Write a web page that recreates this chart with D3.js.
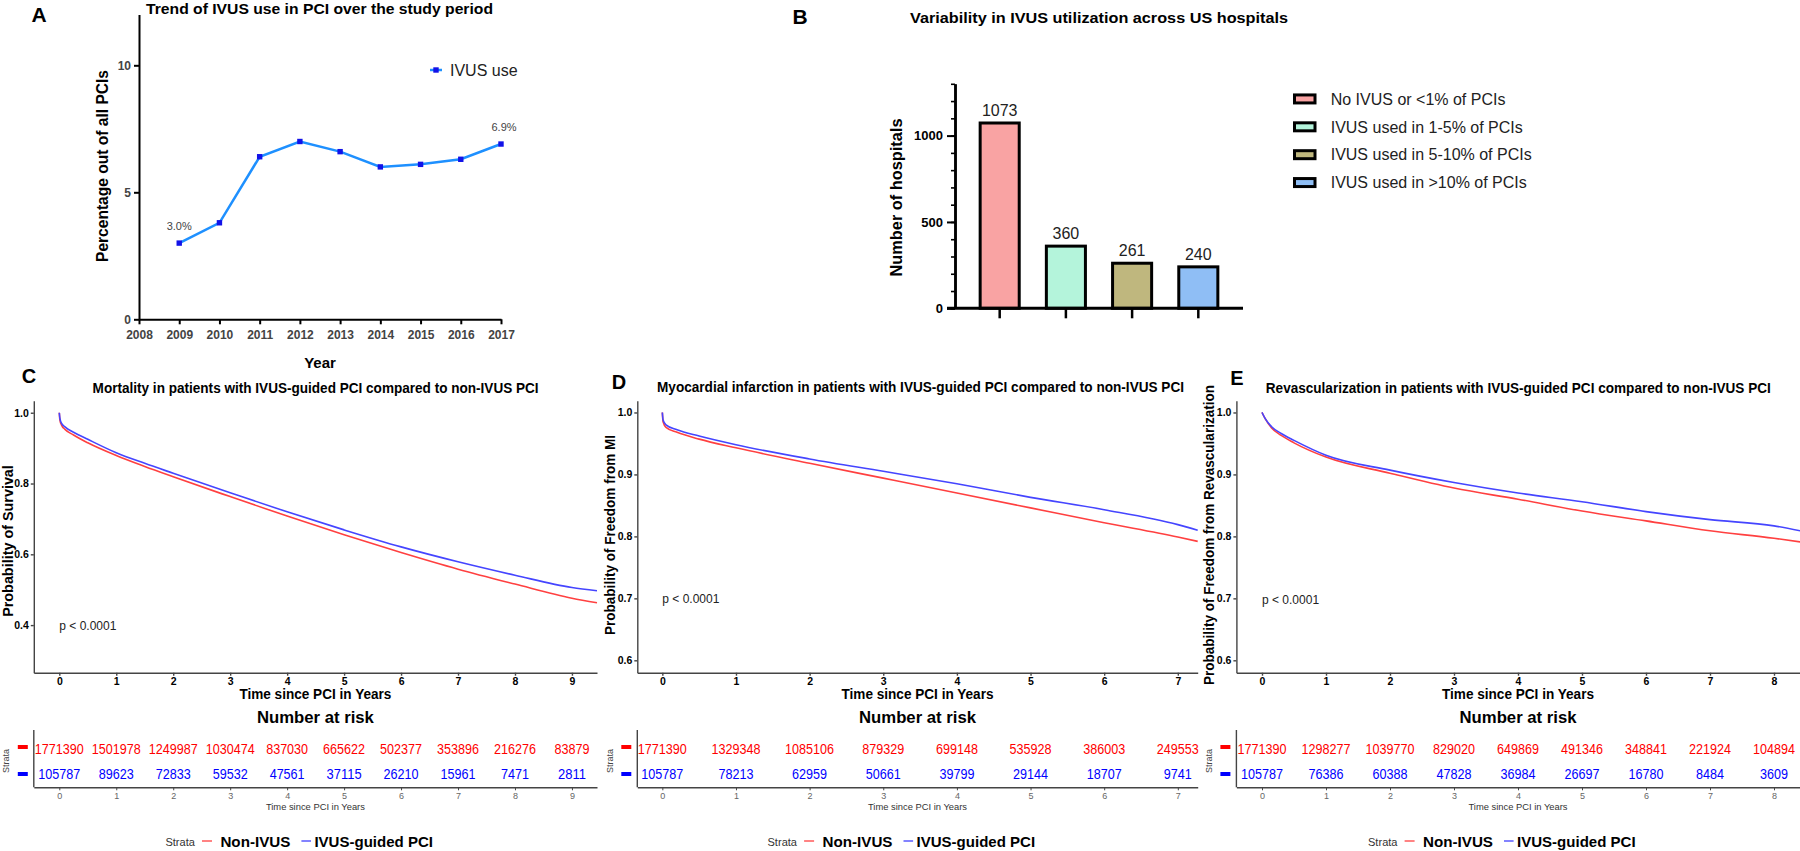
<!DOCTYPE html>
<html><head><meta charset="utf-8">
<script src="https://cdn.jsdelivr.net/npm/d3@7"></script>
<style>body{margin:0;background:#fff} svg{display:block} text{font-family:"Liberation Sans",Arial,sans-serif}</style>
</head><body><svg id="c" width="1800" height="851"></svg>
<script>
// ---------- DATA ----------
// Panel A
const yearsA = [2009,2010,2011,2012,2013,2014,2015,2016,2017];
const ivusUseA = [3.0,3.8,6.4,7.0,6.6,6.0,6.1,6.3,6.9];
const xTicksA = [2008,2009,2010,2011,2012,2013,2014,2015,2016,2017];
const yTicksA = [0,5,10];
// Panel B
const catsB = ["No IVUS or <1% of PCIs","IVUS used in 1-5% of PCIs","IVUS used in 5-10% of PCIs","IVUS used in >10% of PCIs"];
const hospitalsB = [1073,360,261,240];
const colorsB = ["#F9A3A3","#B4F4DB","#BFB77E","#8FBEF5"];
const yTicksB = [0,500,1000];
// Panel C (mortality)
const timeC = [0,0.01,0.04,0.1,0.25,0.5,1,1.5,2,3,4,5,6,7,8,9,9.44];
const ivusC = [1.0,0.985,0.970,0.960,0.945,0.925,0.887,0.857,0.829,0.774,0.720,0.669,0.621,0.579,0.541,0.506,0.497];
const nonC  = [1.0,0.980,0.965,0.953,0.937,0.915,0.879,0.848,0.819,0.763,0.708,0.655,0.605,0.558,0.516,0.476,0.463];
const riskNonC  = [1771390,1501978,1249987,1030474,837030,665622,502377,353896,216276,83879];
const riskIvusC = [105787,89623,72833,59532,47561,37115,26210,15961,7471,2811];
// Panel D (MI)
const timeD = [0,0.01,0.05,0.2,0.5,1,2,3,4,5,6,7,7.27];
const ivusD = [1.0,0.988,0.980,0.972,0.962,0.948,0.925,0.905,0.885,0.863,0.843,0.819,0.810];
const nonD  = [1.0,0.985,0.976,0.968,0.957,0.943,0.918,0.894,0.870,0.846,0.822,0.799,0.792];
const riskNonD  = [1771390,1329348,1085106,879329,699148,535928,386003,249553];
const riskIvusD = [105787,78213,62959,50661,39799,29144,18707,9741];
// Panel E (revascularization)
const timeE = [0,0.05,0.15,0.3,0.5,1,2,3,4,5,6,7,8,8.41];
const ivusE = [1.0,0.990,0.977,0.966,0.955,0.931,0.907,0.887,0.870,0.856,0.840,0.827,0.817,0.809];
const nonE  = [1.0,0.990,0.975,0.963,0.951,0.928,0.902,0.878,0.860,0.841,0.825,0.809,0.797,0.791];
const riskNonE  = [1771390,1298277,1039770,829020,649869,491346,348841,221924,104894];
const riskIvusE = [105787,76386,60388,47828,36984,26697,16780,8484,3609];
const yTicksC = [0.4,0.6,0.8,1.0];
const yTicksDE = [0.6,0.7,0.8,0.9,1.0];

// ---------- HELPERS ----------
const svg = d3.select("#c");
const FONT = '"Liberation Sans",Arial,sans-serif';
function T(g,s,x,y,o={}){
  const t = g.append("text").attr("x",x).attr("y",y).text(s)
    .attr("font-size",o.size||12).attr("font-weight",o.bold?"bold":"normal")
    .attr("fill",o.color||"#000").attr("text-anchor",o.anchor||"start");
  if(o.len) t.attr("textLength",o.len).attr("lengthAdjust","spacingAndGlyphs");
  if(o.rot) t.attr("transform",`rotate(-90,${x},${y})`).attr("dominant-baseline","central");
  return t;
}
function styleAxis(sel,o){
  sel.attr("font-family",FONT).attr("font-size",o.font).attr("font-weight",o.bold?"bold":"normal");
  sel.selectAll("path.domain").attr("stroke",o.color).attr("stroke-width",o.w);
  sel.selectAll(".tick line").attr("stroke",o.color).attr("stroke-width",o.tw||o.w);
  sel.selectAll(".tick text").attr("fill",o.tc);
}

// ---------- PANEL A ----------
const gA = svg.append("g");
const xA = d3.scaleLinear().domain([2008,2017]).range([139,501]);
const yA = d3.scaleLinear().domain([0,12]).range([319.3,14.5]);
T(gA,"A",39,22,{size:21,bold:true,anchor:"middle"});
T(gA,"Trend of IVUS use in PCI over the study period",146,13.5,{size:15,bold:true,len:347});
gA.append("g").attr("transform","translate(0,319.3)")
  .call(d3.axisBottom(xA).tickValues(xTicksA).tickFormat(d3.format("d")).tickSize(5).tickSizeOuter(0).tickPadding(6))
  .call(styleAxis,{w:2,color:"#000",font:12,bold:true,tc:"#444"});
gA.append("g").attr("transform","translate(139,0)")
  .call(d3.axisLeft(yA).tickValues(yTicksA).tickFormat(d3.format("d")).tickSize(5).tickSizeOuter(0).tickPadding(3))
  .call(styleAxis,{w:2,color:"#000",font:12,bold:true,tc:"#444"});
T(gA,"Percentage out of all PCIs",102.5,166,{size:16,bold:true,anchor:"middle",rot:true,len:192});
T(gA,"Year",320,368,{size:15,bold:true,anchor:"middle"});
const ptsA = yearsA.map((y,i)=>({year:y,v:ivusUseA[i]}));
gA.append("path").datum(ptsA).attr("fill","none").attr("stroke","#1E90FF").attr("stroke-width",2.5)
  .attr("d",d3.line().x(d=>xA(d.year)).y(d=>yA(d.v)));
gA.selectAll("rect.pt").data(ptsA).join("rect").attr("class","pt")
  .attr("x",d=>xA(d.year)-2.7).attr("y",d=>yA(d.v)-2.7).attr("width",5.4).attr("height",5.4).attr("fill","#1212E8");
[ptsA[0],ptsA[ptsA.length-1]].forEach(d=>{
  T(gA,d.v.toFixed(1)+"%",xA(d.year)+(d.year===2017?3:0),yA(d.v)-13,{size:11,anchor:"middle",color:"#444"});
});
gA.append("line").attr("x1",430).attr("x2",442).attr("y1",70).attr("y2",70).attr("stroke","#1E90FF").attr("stroke-width",2.5);
gA.append("rect").attr("x",433.3).attr("y",67.3).attr("width",5.4).attr("height",5.4).attr("fill","#1212E8");
T(gA,"IVUS use",450,75.5,{size:16,color:"#222"});

// ---------- PANEL B ----------
const gB = svg.append("g");
const xB = d3.scaleBand().domain(catsB).range([955,1243]).paddingInner(0.41).paddingOuter(0.38);
const yB = d3.scaleLinear().domain([0,1300]).range([308.3,83.8]);
T(gB,"B",800,24,{size:21,bold:true,anchor:"middle"});
T(gB,"Variability in IVUS utilization across US hospitals",910,23,{size:15,bold:true,len:378});
gB.selectAll("rect.bar").data(catsB).join("rect").attr("class","bar")
  .attr("x",d=>xB(d)).attr("y",(d,i)=>yB(hospitalsB[i])).attr("width",xB.bandwidth())
  .attr("height",(d,i)=>yB(0)-yB(hospitalsB[i])).attr("fill",(d,i)=>colorsB[i])
  .attr("stroke","#000").attr("stroke-width",3);
catsB.forEach((c,i)=>T(gB,String(hospitalsB[i]),xB(c)+xB.bandwidth()/2,yB(hospitalsB[i])-7,{size:16,anchor:"middle",color:"#222"}));
gB.append("g").attr("transform","translate(955,0)")
  .call(d3.axisLeft(yB).tickValues(d3.range(0,1301,100)).tickSize(4).tickSizeOuter(0).tickFormat(""))
  .call(styleAxis,{w:2.5,tw:1.6,color:"#000",font:13,bold:true,tc:"#000"});
gB.append("g").attr("transform","translate(955,0)")
  .call(d3.axisLeft(yB).tickValues(yTicksB).tickFormat(d3.format("d")).tickSize(8).tickSizeOuter(0).tickPadding(4))
  .call(styleAxis,{w:2.5,tw:2,color:"#000",font:13,bold:true,tc:"#000"});
const xAxB = gB.append("g").attr("transform","translate(0,308.3)")
  .call(d3.axisBottom(xB).tickSize(10).tickSizeOuter(0).tickFormat(""))
  .call(styleAxis,{w:2.5,tw:2.5,color:"#000",font:12,tc:"#000"});
xAxB.select("path.domain").remove();
gB.append("line").attr("x1",947).attr("x2",1243).attr("y1",308.3).attr("y2",308.3).attr("stroke","#000").attr("stroke-width",3);
T(gB,"Number of hospitals",896,197.5,{size:16,bold:true,anchor:"middle",rot:true,len:158});
const legY = d3.scaleBand().domain(catsB).range([85,196.5]).padding(0);
catsB.forEach((c,i)=>{
  const cy = legY(c)+legY.bandwidth()/2;
  gB.append("rect").attr("x",1294.5).attr("y",cy-4).attr("width",20.5).attr("height",8)
    .attr("fill",colorsB[i]).attr("stroke","#000").attr("stroke-width",3);
  T(gB,c,1330.7,cy+5.7,{size:16,color:"#222"});
});

// ---------- KM PANELS ----------
function kmPanel(c){
  const g = svg.append("g");
  const x = d3.scaleLinear().domain(c.xd).range(c.xr);
  const y = d3.scaleLinear().domain(c.yd).range([672.7,400.7]);
  const cx = (c.xr[0]+c.xr[1])/2;
  const ax = c.xr[0];
  T(g,c.letter,c.lx,c.ly,{size:20,bold:true,anchor:"middle"});
  T(g,c.title,c.tx,c.ty,{size:14,bold:true,len:c.tlen});
  g.append("g").attr("transform",`translate(${ax},0)`)
    .call(d3.axisLeft(y).tickValues(c.yticks).tickFormat(d3.format(".1f")).tickSize(3).tickSizeOuter(0).tickPadding(2))
    .call(styleAxis,{w:1.4,color:"#444",font:10.5,bold:true,tc:"#000"});
  g.append("g").attr("transform","translate(0,672.7)")
    .call(d3.axisBottom(x).tickValues(d3.range(0,c.nt)).tickFormat(d3.format("d")).tickSize(3).tickSizeOuter(0).tickPadding(2))
    .call(styleAxis,{w:1.4,color:"#444",font:10.5,bold:true,tc:"#000"});
  T(g,c.ylab,c.ylx,c.yly,{size:14.5,bold:true,anchor:"middle",rot:true,len:c.ylen});
  const line = d3.line().curve(d3.curveMonotoneX).x(d=>x(d[0])).y(d=>y(d[1]));
  g.append("path").datum(c.times.map((t,i)=>[t,c.non[i]])).attr("fill","none").attr("stroke","#FF4040").attr("stroke-width",1.6).attr("d",line);
  g.append("path").datum(c.times.map((t,i)=>[t,c.ivus[i]])).attr("fill","none").attr("stroke","#4545FF").attr("stroke-width",1.6).attr("d",line);
  T(g,"p < 0.0001",x(0),c.py,{size:12,color:"#222"});
  T(g,"Time since PCI in Years",cx,699,{size:14,bold:true,anchor:"middle",len:152});
  T(g,"Number at risk",cx,722.7,{size:17,bold:true,anchor:"middle",len:117});
  // risk table
  const redY = 748.5, blueY = 774;
  g.append("line").attr("x1",ax).attr("x2",ax).attr("y1",730).attr("y2",787.3).attr("stroke","#444").attr("stroke-width",1.4);
  g.append("g").attr("transform","translate(0,787.3)")
    .call(d3.axisBottom(x).tickValues(d3.range(0,c.nt)).tickFormat(d3.format("d")).tickSize(3).tickSizeOuter(0).tickPadding(2))
    .call(styleAxis,{w:1.4,tw:1,color:"#444",font:9,tc:"#666"});
  c.riskNon.forEach((v,i)=>{const s=String(v);T(g,s,x(i),redY+5.4,{size:14.5,anchor:"middle",color:"#FF0000",len:s.length*7.0});});
  c.riskIvus.forEach((v,i)=>{const s=String(v);T(g,s,x(i),blueY+5.4,{size:14.5,anchor:"middle",color:"#0000FF",len:s.length*7.0});});
  g.append("line").attr("x1",ax-16).attr("x2",ax-6).attr("y1",redY-1.5).attr("y2",redY-1.5).attr("stroke","#FF0000").attr("stroke-width",4);
  g.append("line").attr("x1",ax-16).attr("x2",ax-6).attr("y1",blueY).attr("y2",blueY).attr("stroke","#0000FF").attr("stroke-width",4);
  T(g,"Strata",ax-27.5,761,{size:9,anchor:"middle",rot:true,color:"#444"});
  T(g,"Time since PCI in Years",cx,809.5,{size:9.5,anchor:"middle",color:"#333",len:99});
  // legend
  T(g,"Strata",cx-150,845.5,{size:11.5,color:"#333",len:29.5});
  g.append("line").attr("x1",cx-113.4).attr("x2",cx-103.4).attr("y1",841).attr("y2",841).attr("stroke","#FF5A5A").attr("stroke-width",1.5);
  T(g,"Non-IVUS",cx-95,846.5,{size:15,bold:true,len:70});
  g.append("line").attr("x1",cx-14).attr("x2",cx-4.4).attr("y1",841).attr("y2",841).attr("stroke","#5A5AFF").attr("stroke-width",1.5);
  T(g,"IVUS-guided PCI",cx-1,846.5,{size:15,bold:true,len:118.6});
}

kmPanel({letter:"C",lx:29,ly:383,title:"Mortality in patients with IVUS-guided PCI compared to non-IVUS PCI",tx:92.6,ty:393,tlen:446,
  ylab:"Probability of Survival",ylx:7.5,yly:541,ylen:151.7,
  xr:[33.8,597],xd:[-0.4477,9.44],yd:[0.2655,1.034],yticks:yTicksC,nt:10,
  times:timeC,ivus:ivusC,non:nonC,riskNon:riskNonC,riskIvus:riskIvusC,py:630});
kmPanel({letter:"D",lx:619,ly:389,title:"Myocardial infarction in patients with IVUS-guided PCI compared to non-IVUS PCI",tx:657,ty:391.5,tlen:527,
  ylab:"Probability of Freedom from MI",ylx:610,yly:535,ylen:200,
  xr:[637.3,1197.7],xd:[-0.34,7.27],yd:[0.58,1.019],yticks:yTicksDE,nt:8,
  times:timeD,ivus:ivusD,non:nonD,riskNon:riskNonD,riskIvus:riskIvusD,py:603});
kmPanel({letter:"E",lx:1237,ly:385,title:"Revascularization in patients with IVUS-guided PCI compared to non-IVUS PCI",tx:1265.8,ty:393,tlen:505,
  ylab:"Probability of Freedom from Revascularization",ylx:1209,yly:535,ylen:300,
  xr:[1236.4,1799.6],xd:[-0.4,8.4],yd:[0.58,1.019],yticks:yTicksDE,nt:9,
  times:timeE,ivus:ivusE,non:nonE,riskNon:riskNonE,riskIvus:riskIvusE,py:604});
</script></body></html>
